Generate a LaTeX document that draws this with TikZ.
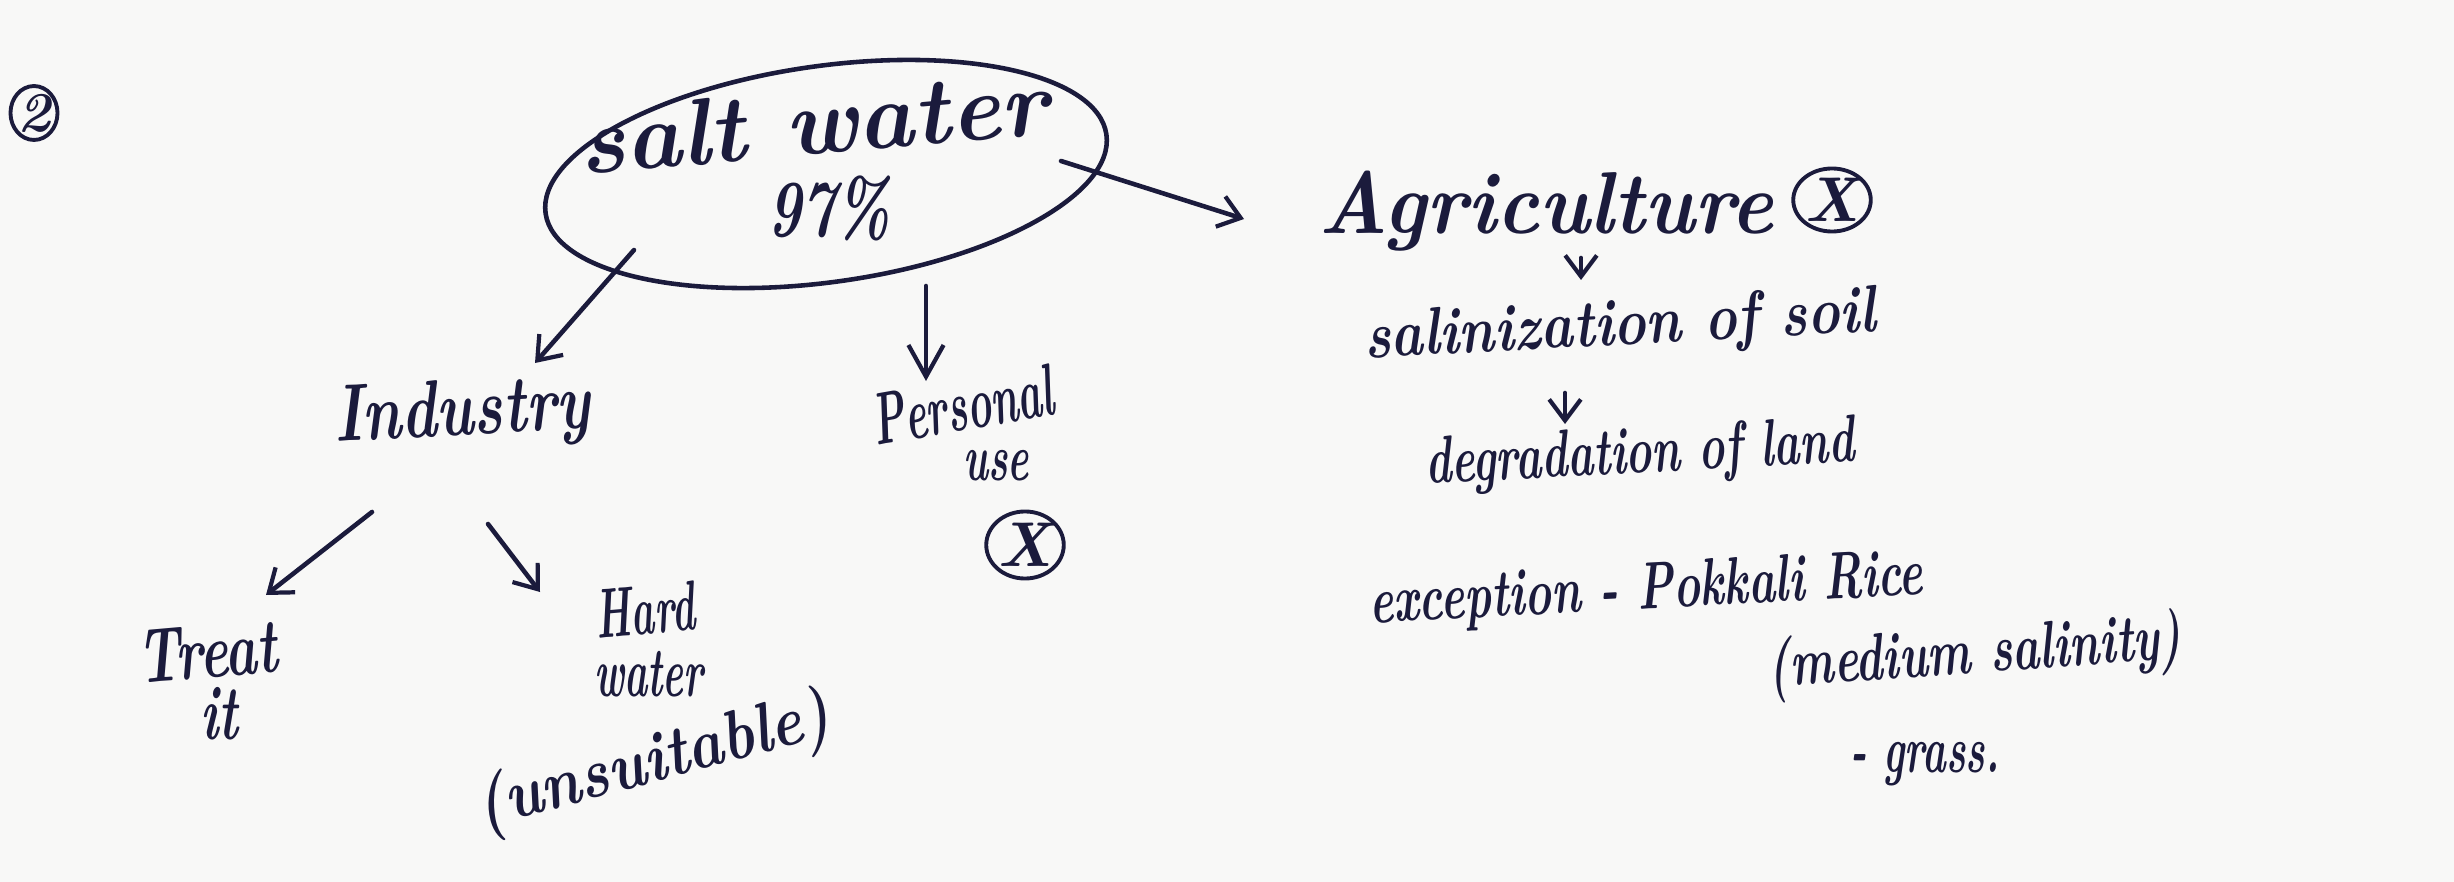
\documentclass[tikz,border=0pt]{standalone}
\usepackage{fontspec}
\usepackage{graphicx}
\usetikzlibrary{shapes.geometric,arrows.meta,calc}
\definecolor{ink}{HTML}{1B1B3C}
\definecolor{paper}{HTML}{F8F8F7}
% handwritten-looking label: size, horizontal squeeze, text
\newcommand{\hand}[3]{\fontsize{#1}{#1}\selectfont\bfseries\itshape\scalebox{#2}[1]{#3}}

\begin{document}
\begin{tikzpicture}[x=0.01cm,y=-0.01cm,
  every node/.style={text=ink, inner sep=0pt},
  pen/.style={draw=ink, line width=1.3pt, line cap=round},
  arr/.style={pen, -{Straight Barb[length=6pt,width=9pt,line width=1.2pt]}},
  varr/.style={pen, -{Straight Barb[length=9pt,width=10pt,line width=1.2pt]}},
  ring/.style={draw=ink, ellipse, line width=1.1pt}
]
\fill[paper] (0,0) rectangle (2454,882);
\useasboundingbox (0,0) rectangle (2454,882);

% question number
\node (two) [ring, minimum width=0.34cm, minimum height=0.48cm] at (34,113) {\hand{16pt}{1}{2}};

% central bubble
\node (sw) [ellipse, pen, minimum width=5.66cm, minimum height=2.16cm, rotate=8] at (826,174) {};
\node (swt) [rotate=5] at (813,122) {\hand{27pt}{1.0}{salt water}};
\node (pct) at (829,208) {\hand{23pt}{0.72}{97\%}};

% right branch: agriculture
\node (agr) at (1546,211) {\hand{25pt}{0.92}{Agriculture}};
\node (xa) [ring, minimum width=0.5cm, minimum height=0.63cm] at (1832,200) {\hand{18pt}{1}{X}};
\node (sal) [rotate=3] at (1620,328) {\hand{19pt}{0.82}{salinization of soil}};
\node (deg) [rotate=3] at (1640,456) {\hand{19pt}{0.66}{degradation of land}};
\node (exc) [rotate=3] at (1646,592) {\hand{19pt}{0.68}{exception - Pokkali Rice}};
\node (med) [rotate=4] at (1975,656) {\hand{19pt}{0.69}{(medium salinity)}};
\node (grs) at (1925,764) {\hand{19pt}{0.6}{- grass.}};

% middle branch: personal use
\node (per) [rotate=10] at (962,405) {\hand{21pt}{0.56}{Personal}};
\node (use) at (996,466) {\hand{19pt}{0.6}{use}};
\node (xp) [ring, minimum width=0.53cm, minimum height=0.67cm] at (1025,545) {\hand{18pt}{1}{X}};

% left branch: industry
\node (ind) [rotate=3] at (462,415) {\hand{23pt}{0.74}{Industry}};
\node (tre) [rotate=5] at (207,652) {\hand{22pt}{0.7}{Treat}};
\node (it) at (219,714) {\hand{22pt}{0.66}{it}};
\node (hard) [rotate=5] at (645,610) {\hand{20pt}{0.56}{Hard}};
\node (wat) at (649,674) {\hand{20pt}{0.56}{water}};
\node (uns) [rotate=15] at (654,764) {\hand{20pt}{0.86}{(unsuitable)}};

% connectors
\draw[arr] ($(sw.center)+(235,-13)$) -- ($(agr.center)+(-302,8)$);
\draw[arr] ($(agr.center)+(35,47)$) -- ($(sal.center)+(-39,-48)$);
\draw[arr] ($(sal.center)+(-55,65)$) -- ($(deg.center)+(-75,-32)$);
\draw[arr] ($(sw.center)+(-192,76)$) -- ($(ind.center)+(73,-52)$);
\draw[varr] ($(sw.center)+(100,112)$) -- ($(per.center)+(-36,-24)$);
\draw[arr] ($(ind.center)+(-90,97)$) -- ($(tre.center)+(59,-57)$);
\draw[arr] ($(ind.center)+(26,109)$) -- ($(hard.center)+(-105,-18)$);
\end{tikzpicture}
\end{document}
